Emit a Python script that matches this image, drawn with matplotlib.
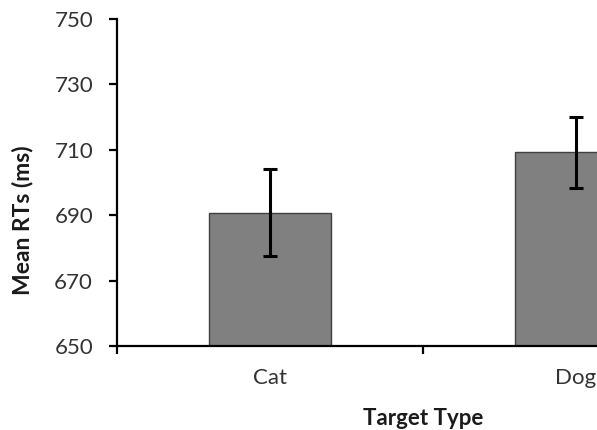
import matplotlib
matplotlib.use('Agg')
import matplotlib.pyplot as plt

categories = ['Cat', 'Dog']
mean_rts = [690.8, 709.2]
errors = [13.4, 10.8]
y_ticks = [650, 670, 690, 710, 730, 750]

plt.rcParams['font.family'] = ['Lato', 'DejaVu Sans']

fig = plt.figure(figsize=(5.97, 4.30), dpi=100)
# axes runs past the right edge, the source image is cropped there
ax = fig.add_axes([0.1955, 0.1953, 1.0251, 0.7605])

x = list(range(len(categories)))
ax.bar(x, [v - 650 for v in mean_rts], bottom=650, width=0.40,
       color='#808080', edgecolor='#404040', linewidth=1.0, zorder=2)
ax.errorbar(x, mean_rts, yerr=errors, fmt='none', ecolor='black',
            elinewidth=2.2, capsize=5, capthick=2.2, zorder=3)

ax.set_xlim(-0.5, 1.5)
ax.set_ylim(650, 750)
ax.set_yticks(y_ticks)
ax.set_xticks(x)
ax.set_xticklabels(categories)
ax.set_xticks([-0.5, 0.5, 1.5], minor=True)

for side in ['top', 'right']:
    ax.spines[side].set_visible(False)
for side in ['left', 'bottom']:
    ax.spines[side].set_linewidth(1.6)

ax.tick_params(axis='y', direction='out', length=6, width=1.6,
               labelsize=16, labelcolor='#333333', pad=11)
ax.tick_params(axis='x', which='major', length=0, labelsize=16,
               labelcolor='#333333', pad=16)
ax.tick_params(axis='x', which='minor', direction='out', length=6, width=1.6)

ax.set_ylabel('Mean RTs (ms)', fontsize=16.5, fontweight='bold',
              color='#1a1a1a')
ax.yaxis.set_label_coords(-0.137, 0.385)
ax.set_xlabel('Target Type', fontsize=16, fontweight='bold',
              color='#1a1a1a', labelpad=14)

fig.savefig('out.png', dpi=100)
